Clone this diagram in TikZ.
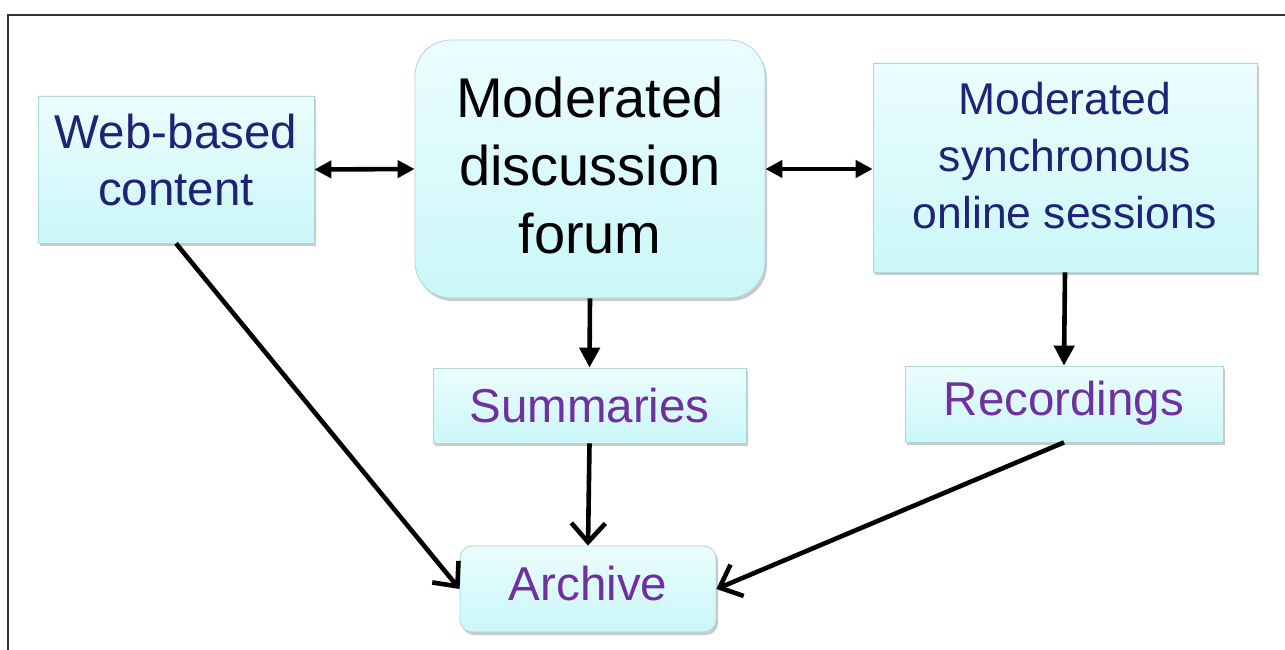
\documentclass[tikz,border=0pt]{standalone}
\usepackage{fontspec}
\setmainfont{Liberation Sans}
\usetikzlibrary{arrows.meta,shadows,calc}
\definecolor{navytxt}{RGB}{32,34,118}
\definecolor{purptxt}{RGB}{112,48,160}
\definecolor{boxtop}{RGB}{236,253,254}
\definecolor{boxbot}{RGB}{202,247,249}
\definecolor{boxedge}{RGB}{170,216,218}
\begin{document}
\begin{tikzpicture}[x=1pt,y=-1pt,
  box/.style={draw=boxedge, line width=0.8pt, top color=boxtop, bottom color=boxbot,
    inner sep=0pt, align=center,
    drop shadow={shadow xshift=2pt, shadow yshift=-3pt, opacity=0.35, fill=black!60}},
  lbl/.style={inner sep=0pt, align=center},
  smalltxt/.style={font=\fontsize{47.5}{57}\selectfont},
  conn/.style={line width=4.6pt, black},
  fillhead/.style={conn, -{Triangle[length=20pt,width=20pt]}},
  dblhead/.style={conn, {Triangle[length=17pt,width=17pt]}-{Triangle[length=17pt,width=17pt]}},
  openhead/.style={conn, -{Straight Barb[length=19pt,width=34pt,line width=4.6pt]}}
]
\useasboundingbox (0,0) rectangle (1285,650);
\fill[white] (0,0) rectangle (1285,650);
\coordinate (frTL) at (8,15);
\coordinate (frTR) at (1285,15);
\coordinate (frBL) at (8,650);
\draw[line width=1.2pt, black!80] (frTR) -- (frTL) -- (frBL);

\node[box, minimum width=276pt, minimum height=147pt] (web) at (176,169.5) {};
\node[lbl, smalltxt, text=navytxt] (webt) at ([yshift=9pt]web.center) {Web-based\\content};

\node[box, rounded corners=36pt, minimum width=350pt, minimum height=258pt]
  (forum) at (590,169) {};
\node[lbl, text=black, font=\fontsize{56}{68}\selectfont] (forumt) at ([yshift=4pt]forum.center)
  {Moderated\\discussion\\forum};

\node[box, minimum width=384pt, minimum height=209pt] (sync) at (1065,167.5) {};
\node[lbl, text=navytxt, font=\fontsize{44.5}{57}\selectfont] (synct) at ([yshift=12pt]sync.center)
  {Moderated\\synchronous\\online sessions};

\node[box, minimum width=313pt, minimum height=75pt] (summ) at (589.5,405.5) {};
\node[lbl, smalltxt, text=purptxt] (summt) at (summ.center) {Summaries};

\node[box, minimum width=318pt, minimum height=76pt] (rec) at (1064,404) {};
\node[lbl, smalltxt, text=purptxt] (rect) at ([yshift=1pt]rec.center) {Recordings};

\node[box, rounded corners=12pt, minimum width=256pt, minimum height=86pt]
  (arch) at (588,589) {};
\node[lbl, smalltxt, text=purptxt] (archt) at ([yshift=5pt]arch.center) {Archive};

\draw[dblhead] (web.east) -- (forum.west);
\draw[dblhead] (forum.east) -- (forum.east -| sync.west);
\draw[fillhead] (forum.south) -- (summ.north);
\draw[fillhead] (sync.south) -- (rec.north);
\draw[openhead] (summ.south) -- (arch.north);
\draw[openhead] (web.south) -- (arch.west);
\draw[openhead] (rec.south) -- (arch.east);
\end{tikzpicture}
\end{document}
